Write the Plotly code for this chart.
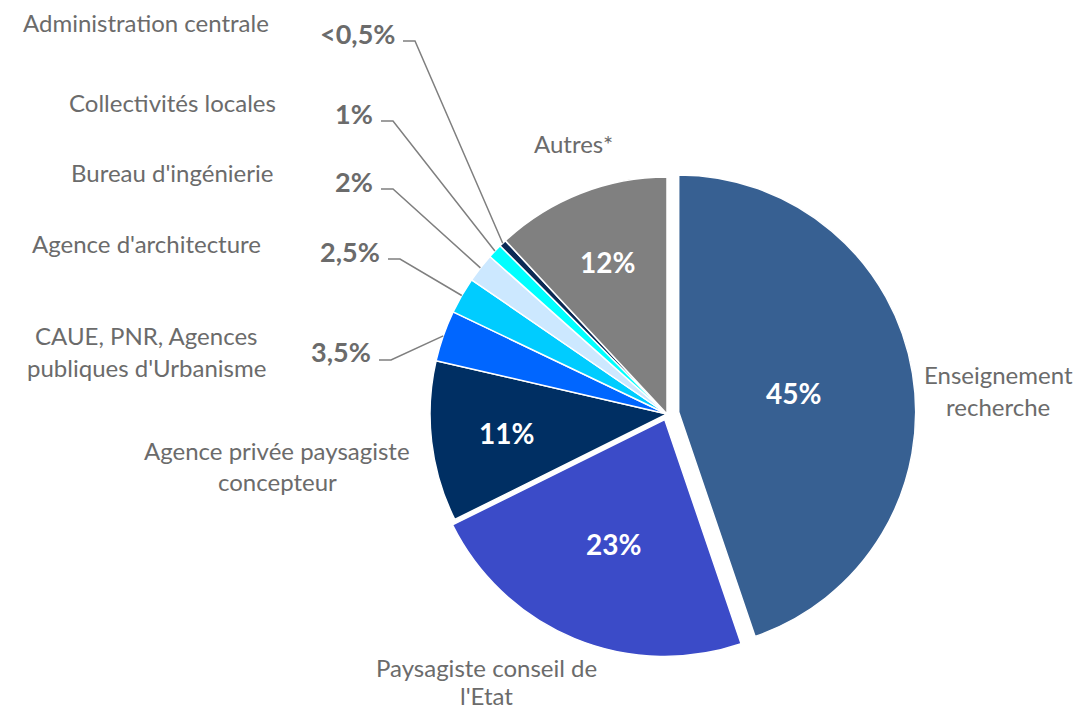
import math
import plotly.graph_objects as go

# ---------------- data ----------------
categories = [
    "Enseignement<br>recherche",
    "Paysagiste conseil de<br>l'Etat",
    "Agence privée paysagiste<br>concepteur",
    "CAUE, PNR, Agences<br>publiques d'Urbanisme",
    "Agence d'architecture",
    "Bureau d'ingénierie",
    "Collectivités locales",
    "Administration centrale",
    "Autres*",
]
values = [45, 23, 11, 3.5, 2.5, 2, 1, 0.5, 12]
value_labels = ["45%", "23%", "11%", "3,5%", "2,5%", "2%", "1%", "<0,5%", "12%"]

# ---------------- style ----------------
colors = ["#376092", "#3B4BC8", "#002F63", "#0066FF", "#00CCFF",
          "#CCE8FF", "#00FFFF", "#0B2A55", "#808080"]
pulls = [0.05, 0.025, 0, 0, 0, 0, 0, 0, 0]
inside = [True, True, True, False, False, False, False, False, True]
inside_r = [0.49, 0.57, 0.68, 0, 0, 0, 0, 0, 0.69]

WIN_W, WIN_H = 1082, 723
OFF = 8  # default page body margin
W, H = WIN_W - 2 * OFF, WIN_H - 2 * OFF
CX, CY, R = 667, 414, 237
TXT = "#6b6b6b"
FONT = "Lato"

# name label centres (window px) and outside value label anchor (right edge px, centre y px)
name_pos = [(998, 390), (486, 681), (277, 466), (146, 351), (146, 244),
            (172, 173), (172, 102), (146, 22), (573, 143)]
line_h = [32, 28, 32, 32, 32, 32, 32, 32, 32]
out_pos = [None, None, None, (373, 352), (382, 251), (375, 181), (375, 113), (397, 33), None]


def px2paper(x, y):
    return (x - OFF) / W, 1 - (y - OFF) / H


maxpull = max(pulls)
D = 2 * R * (1 + maxpull)
dx0, _ = px2paper(CX - D / 2, 0)
dx1, _ = px2paper(CX + D / 2, 0)
_, dy1 = px2paper(0, CY - D / 2)
_, dy0 = px2paper(0, CY + D / 2)

fig = go.Figure(go.Pie(
    labels=[c.replace("<br>", " ") for c in categories],
    values=values,
    sort=False,
    direction="clockwise",
    rotation=0,
    pull=pulls,
    marker=dict(colors=colors, line=dict(color="white", width=1.5)),
    textinfo="none",
    hoverinfo="label+percent",
    showlegend=False,
    domain=dict(x=[dx0, dx1], y=[dy0, dy1]),
))

annotations = []
shapes = []
total = sum(values)
cum = 0.0
for i, v in enumerate(values):
    mid = 2 * math.pi * (cum + v / 2) / total
    cum += v
    sx, sy = math.sin(mid), -math.cos(mid)
    ox = CX + pulls[i] * R * sx
    oy = CY + pulls[i] * R * sy
    if inside[i]:
        tx, ty = ox + inside_r[i] * R * sx, oy + inside_r[i] * R * sy
        px, py = px2paper(tx, ty)
        annotations.append(dict(x=px, y=py, xref="paper", yref="paper", text="<b>%s</b>" % value_labels[i],
                                showarrow=False, font=dict(family=FONT, size=28, color="white"),
                                xanchor="center", yanchor="middle"))
    else:
        rx, ry = out_pos[i]
        px, py = px2paper(rx, ry)
        annotations.append(dict(x=px, y=py, xref="paper", yref="paper", text="<b>%s</b>" % value_labels[i],
                                showarrow=False, font=dict(family=FONT, size=27, color=TXT),
                                xanchor="right", yanchor="middle"))
        ex, ey = ox + R * sx, oy + R * sy
        ly = ry + 8
        x0, y0 = px2paper(rx + 6, ly)
        x1, y1 = px2paper(rx + 18, ly)
        x2, y2 = px2paper(ex, ey)
        shapes.append(dict(type="path", xref="paper", yref="paper",
                           path="M %f,%f L %f,%f L %f,%f" % (x0, y0, x1, y1, x2, y2),
                           line=dict(color="#7f7f7f", width=1.5)))
    # category name (split lines)
    lines = categories[i].split("<br>")
    nx, ny = name_pos[i]
    n = len(lines)
    for k, ln in enumerate(lines):
        yy = ny + (k - (n - 1) / 2) * line_h[i]
        px, py = px2paper(nx, yy)
        annotations.append(dict(x=px, y=py, xref="paper", yref="paper", text=ln,
                                showarrow=False, font=dict(family=FONT, size=24, color=TXT),
                                xanchor="center", yanchor="middle"))

fig.update_layout(
    width=W, height=H, autosize=False,
    margin=dict(l=0, r=0, t=0, b=0),
    paper_bgcolor="white", plot_bgcolor="white",
    annotations=annotations, shapes=shapes,
)
fig.write_html("out.html")
